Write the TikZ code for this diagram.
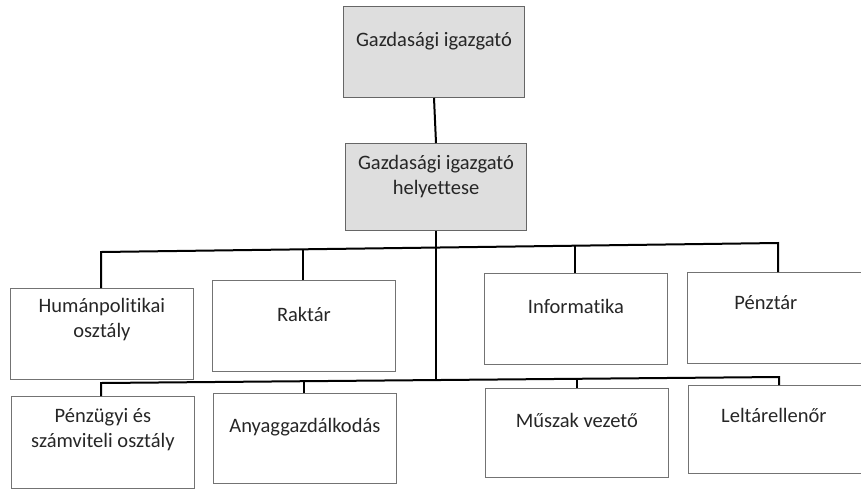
\documentclass[tikz,border=0pt]{standalone}
\usepackage{fontspec}
\setmainfont{Carlito}[Ligatures={NoCommon}]
\begin{document}
\begin{tikzpicture}[x=1pt,y=-1pt,
  box/.style={draw=black!55,line width=0.8pt,minimum width=183pt,minimum height=91pt,anchor=north west,inner sep=0pt},
  topbox/.style={box,fill=black!13,minimum width=181pt,draw=black!60,line width=1pt},
  lbl/.style={font=\fontsize{20.5}{25}\selectfont,align=center,text=black!85,inner sep=0pt},
  conn/.style={line width=2pt,black}]
\useasboundingbox (0,0) rectangle (861,488);
\clip (0,0) rectangle (861,488);
% boxes
\node[topbox,minimum height=91pt] (gi) at (343,6) {};
\node[topbox,minimum height=87pt] (gih) at (345,143) {};
\node[box] (hum) at (10,288) {};
\node[box] (rak) at (212,280) {};
\node[box] (inf) at (484,273) {};
\node[box] (pen) at (687,272) {};
\node[box,minimum height=92pt] (psz) at (11,396) {};
\node[box,minimum height=90pt] (any) at (213,393) {};
\node[box,minimum height=89pt] (mus) at (485,388) {};
\node[box,minimum height=88pt] (lel) at (688,385) {};
% labels
\node[lbl] (gi-t) at ([yshift=11pt]gi.center) {Gazdasági igazgató};
\node[lbl] (gih-t) at ([yshift=10pt]gih.center) {Gazdasági igazgató\\helyettese};
\node[lbl] (hum-t) at ([yshift=14pt]hum.center) {Humánpolitikai\\osztály};
\node[lbl] (rak-t) at ([yshift=11pt]rak.center) {Raktár};
\node[lbl] (inf-t) at ([yshift=12pt]inf.center) {Informatika};
\node[lbl] (pen-t) at ([yshift=15pt,xshift=-13pt]pen.center) {Pénztár};
\node[lbl] (psz-t) at ([yshift=13pt]psz.center) {Pénzügyi és\\számviteli osztály};
\node[lbl] (any-t) at ([yshift=11pt]any.center) {Anyaggazdálkodás};
\node[lbl] (mus-t) at ([yshift=12pt]mus.center) {Műszak vezető};
\node[lbl] (lel-t) at ([yshift=14pt,xshift=-6pt]lel.center) {Leltárellenőr};
% bus coordinates
\coordinate (u1) at (101,252);
\coordinate (u2) at (303,249.3);
\coordinate (uc) at (436,247.5);
\coordinate (u3) at (575,245.7);
\coordinate (u4) at (778,243);
\coordinate (l1) at (101,383);
\coordinate (l2) at (304,381.2);
\coordinate (lc) at (436,380);
\coordinate (l3) at (577,378.8);
\coordinate (l4) at (779,377);
% connectors
\draw[conn] (gi.south) -- (gih.north);
\draw[conn] (gih.south) -- (lc);
\draw[conn] (hum.north -| u1) -- (u1) -- (u4) -- (pen.north -| u4);
\draw[conn] (rak.north -| u2) -- (u2);
\draw[conn] (inf.north -| u3) -- (u3);
\draw[conn] (psz.north -| l1) -- (l1) -- (l4) -- (lel.north -| l4);
\draw[conn] (any.north -| l2) -- (l2);
\draw[conn] (mus.north -| l3) -- (l3);
\end{tikzpicture}
\end{document}
